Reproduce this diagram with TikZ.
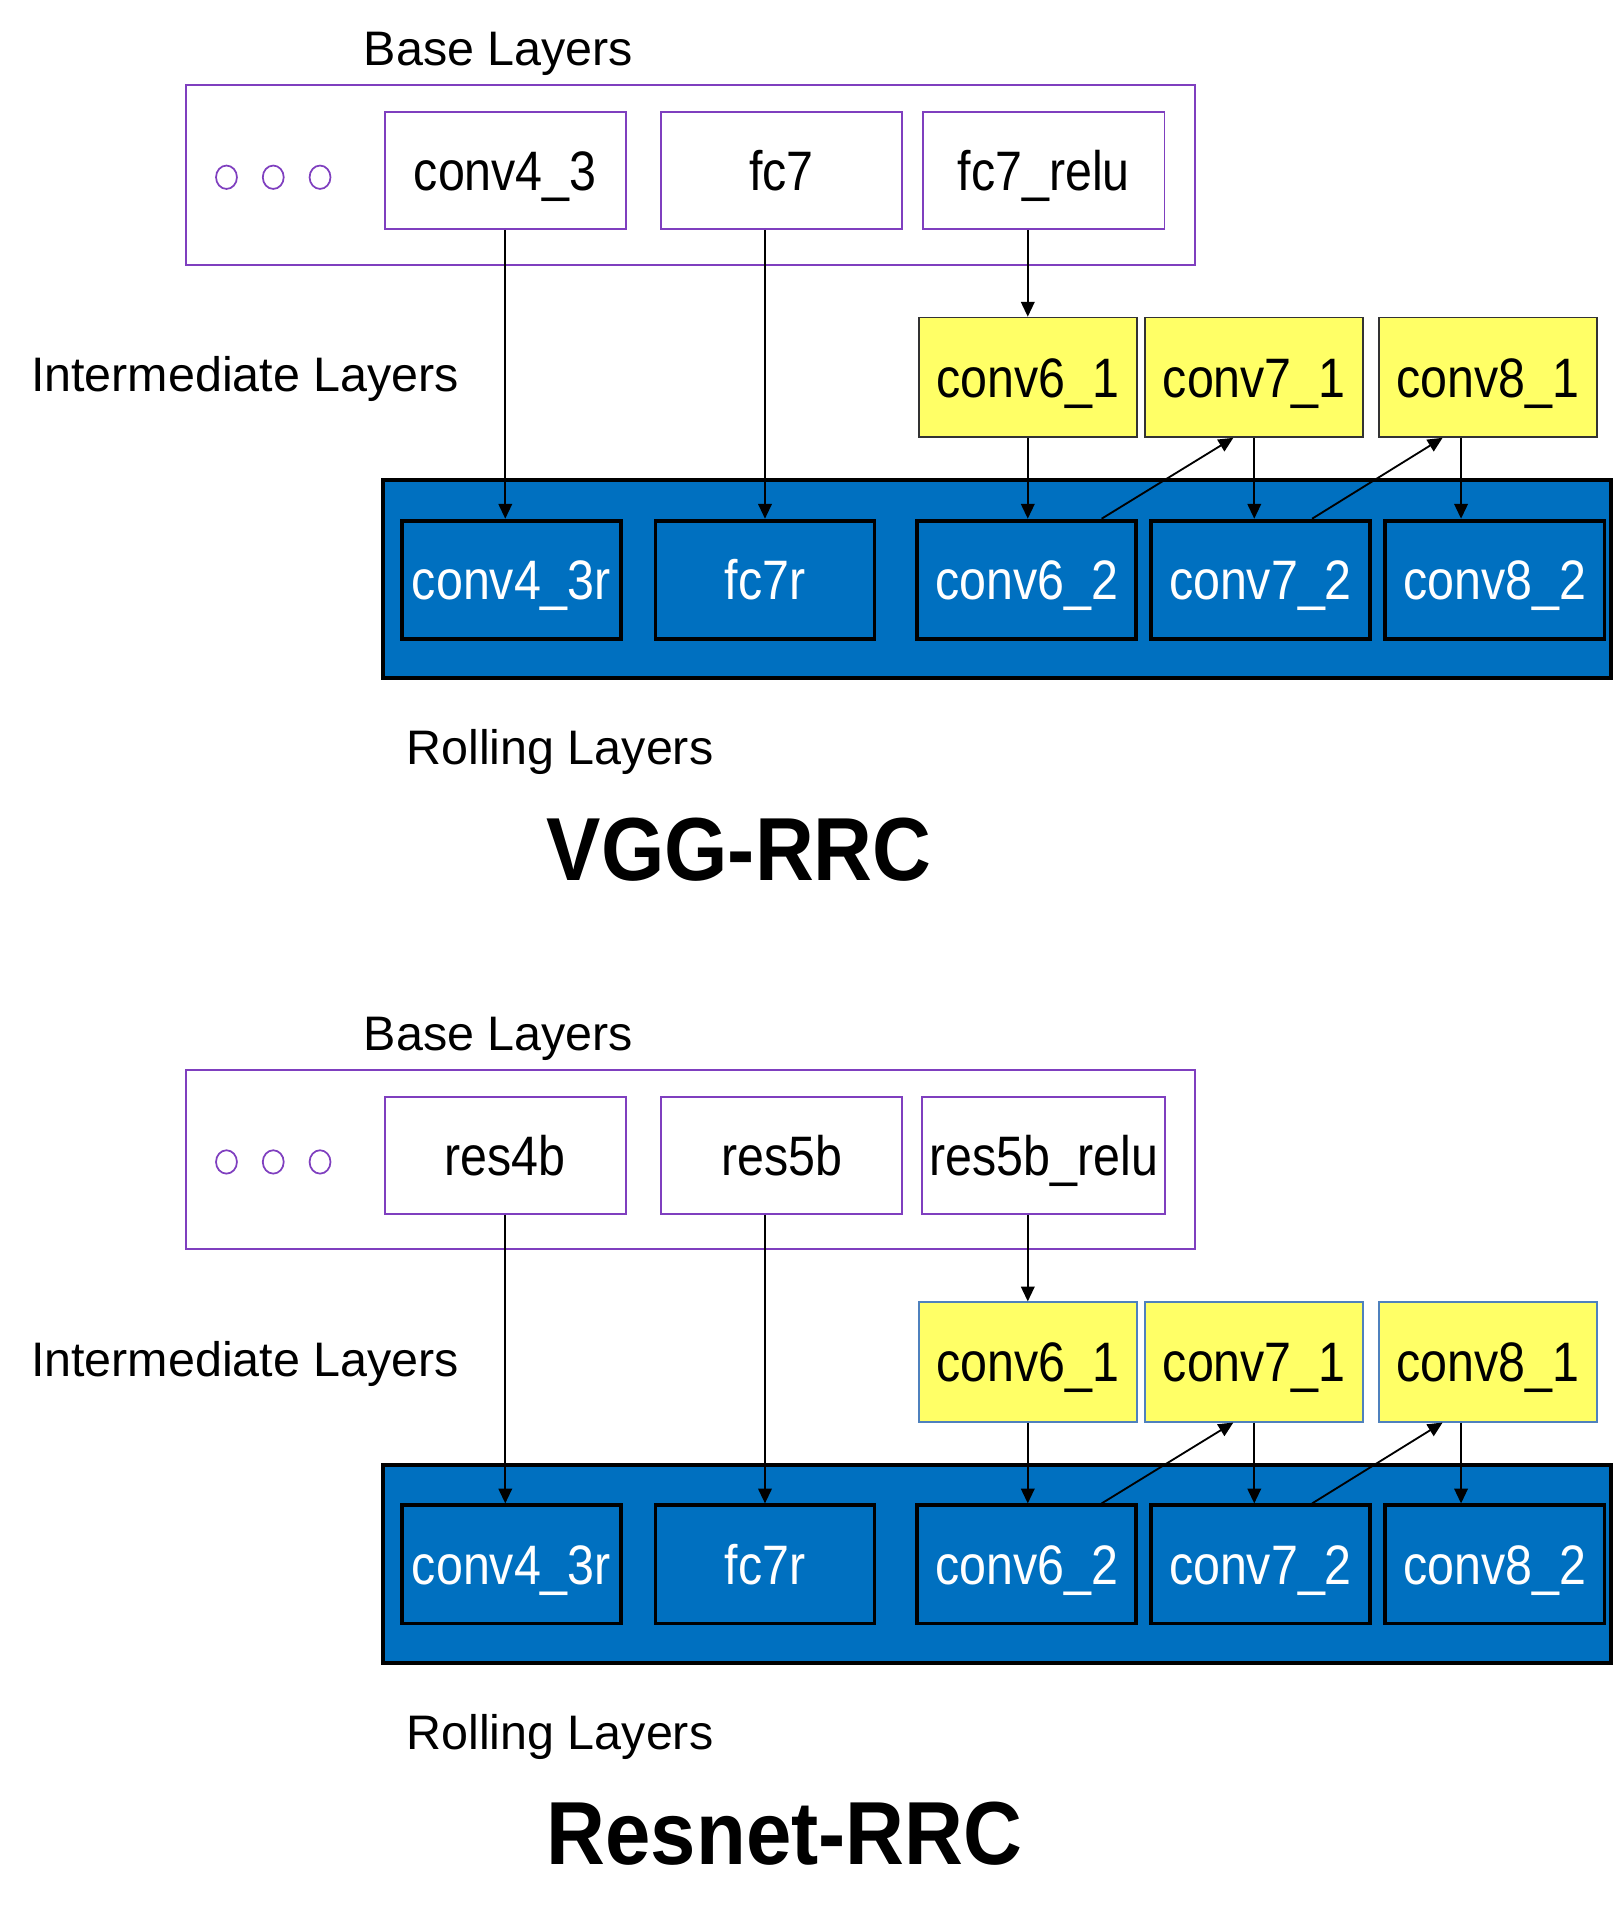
\documentclass[tikz,border=0pt]{standalone}
\usepackage{fontspec}
\setmainfont{Liberation Sans}
\newfontfamily\boxfont[FakeStretch=0.87]{Liberation Sans}
\newfontfamily\netfont[FakeStretch=0.91]{Liberation Sans Bold}
\usepackage{xcolor}
\definecolor{baseviolet}{HTML}{7F3FBF}
\definecolor{rollblue}{HTML}{0070C0}
\definecolor{midyellow}{HTML}{FFFF66}
\definecolor{midedge}{HTML}{4F81BD}
\usetikzlibrary{arrows.meta,positioning,calc}

\tikzset{
  sidelbl/.style={font=\fontsize{22.4}{26}\selectfont},
  boxlbl/.style={font=\boxfont\fontsize{25.7}{28}\selectfont,text height=0.65cm,text depth=0cm},
  basebox/.style={draw=baseviolet,line width=0.85pt,minimum width=3.92cm,minimum height=1.90cm,boxlbl},
  midbox/.style={draw=#1,fill=midyellow,line width=0.8pt,minimum width=3.54cm,minimum height=1.94cm,boxlbl},
  rollbox/.style={draw=black,fill=rollblue,line width=1.8pt,text=white,minimum width=3.56cm,minimum height=1.92cm,boxlbl},
  feed/.style={-{Triangle[length=0.24cm,width=0.22cm]},line width=0.85pt},
}

\begin{document}
\begin{tikzpicture}
\useasboundingbox (0,0) rectangle (26.28,-31.36);
\foreach \dy/\p/\a/\b/\c/\net/\edge in {0/v/conv4\_3/fc7/fc7\_relu/VGG-RRC/black!80,
    16/r/res4b/res5b/res5b\_relu/Resnet-RRC/midedge}{
\begin{scope}[yshift=-\dy cm]
% base layers
\draw[baseviolet,line width=0.85pt] (3.02,-1.38) rectangle (19.42,-4.30);
\node[sidelbl] (\p base) at (8.1,-0.88) {Base Layers};
\foreach \x in {3.68,4.44,5.20} \draw[baseviolet,line width=0.8pt] (\x,-2.88) ellipse (0.17 and 0.19);
\node[basebox] (\p ba) at (8.21,-2.77) {\a};
\node[basebox] (\p bb) at (12.70,-2.77) {\b};
\node[basebox] (\p bc) at (16.96,-2.77) {\c};
% intermediate layers
\node[sidelbl,anchor=west] (\p mid) at (0.38,-6.16) {Intermediate Layers};
\node[midbox=\edge] (\p m6) at (16.70,-6.13) {conv6\_1};
\node[midbox=\edge] (\p m7) at (20.38,-6.13) {conv7\_1};
\node[midbox=\edge] (\p m8) at (24.18,-6.13) {conv8\_1};
% rolling layers
\draw[fill=rollblue,line width=1.8pt] (6.22,-7.80) rectangle (26.18,-11.02);
\node[rollbox] (\p r4) at (8.31,-9.42) {conv4\_3r};
\node[rollbox] (\p r5) at (12.43,-9.42) {fc7r};
\node[rollbox] (\p r6) at (16.68,-9.42) {conv6\_2};
\node[rollbox] (\p r7) at (20.48,-9.42) {conv7\_2};
\node[rollbox] (\p r8) at (24.29,-9.42) {conv8\_2};
\node[sidelbl,anchor=west] (\p roll) at (6.48,-12.22) {Rolling Layers};
\node[anchor=west,font=\netfont\fontsize{41.4}{44}\selectfont] (\p title) at (8.76,-13.8) {\net};
% connectors
\draw[feed] (\p ba) -- (\p ba.center |- \p r4.north);
\draw[feed] (\p bb.south -| \p r5) -- (\p r5);
\draw[feed] (\p bc.south -| \p m6) -- (\p m6);
\draw[feed] (\p m6) -- (\p m6.center |- \p r6.north);
\draw[feed] (\p m7) -- (\p m7.center |- \p r7.north);
\draw[feed] ([xshift=-0.44cm]\p m8.south) -- ([xshift=-0.44cm]\p m8.south |- \p r8.north);
\draw[feed] ([xshift=1.22cm]\p r6.north) -- ([xshift=-0.34cm]\p m7.south);
\draw[feed] ([xshift=0.84cm]\p r7.north) -- ([xshift=-0.74cm]\p m8.south);
\end{scope}}
\end{tikzpicture}
\end{document}
